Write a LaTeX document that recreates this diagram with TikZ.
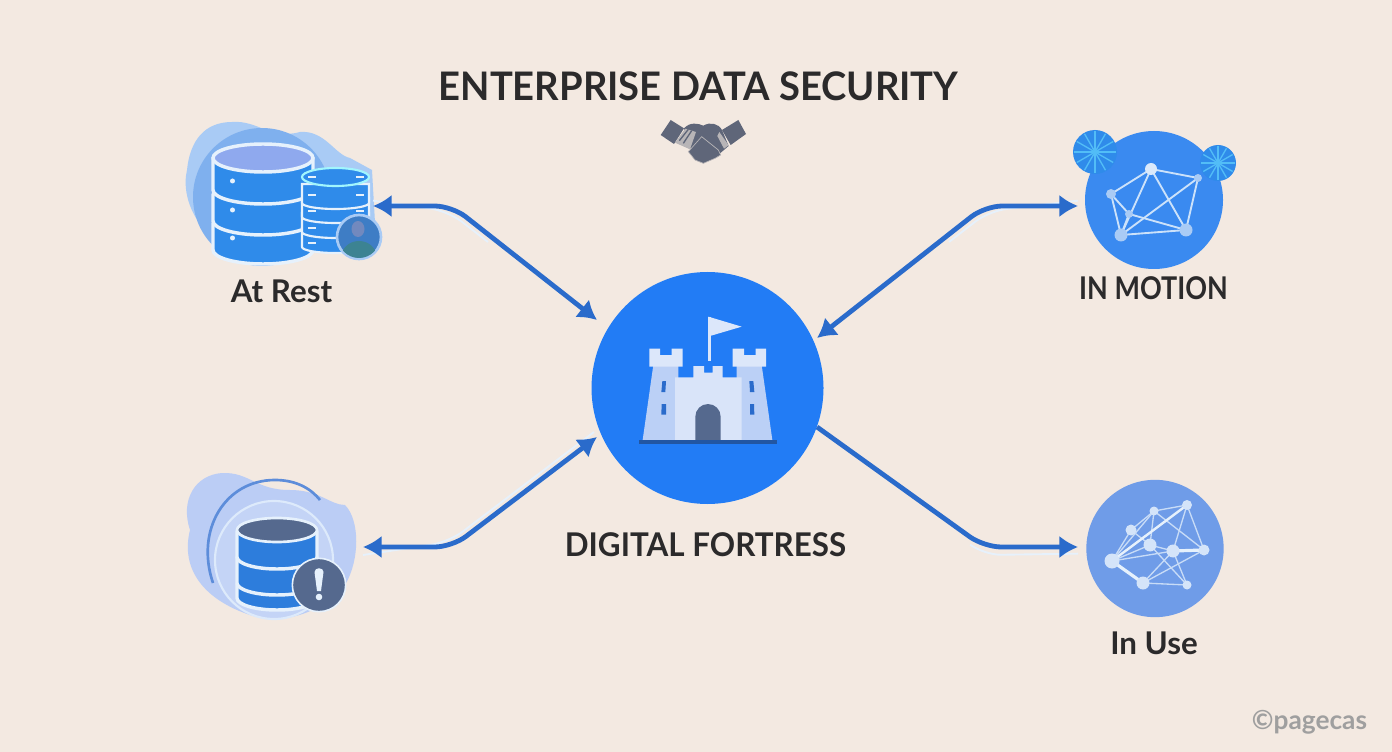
\documentclass[tikz,border=0pt]{standalone}
\usepackage{fontspec}
\setmainfont{Lato}
\usetikzlibrary{arrows.meta,calc}
\definecolor{bgc}{HTML}{F3E9E1}
\definecolor{arrowc}{HTML}{2A6BCB}
\definecolor{hubc}{HTML}{227CF5}
\definecolor{dbblue}{HTML}{2F8BEA}
\definecolor{dbtop}{HTML}{8FA9EE}
\definecolor{lightb}{HTML}{A9CBF5}
\definecolor{midb}{HTML}{7FB0EE}
\definecolor{palew}{HTML}{E6F1FC}
\definecolor{txtc}{HTML}{2B2A2B}
\definecolor{slatec}{HTML}{55698E}
\definecolor{handc}{HTML}{5F6679}
\definecolor{periw}{HTML}{BBCDF5}
\definecolor{useblue}{HTML}{6F9CE8}
\definecolor{motblue}{HTML}{3A8AF0}
\definecolor{rayc}{HTML}{52BDF7}
\definecolor{towerc}{HTML}{BBD0F6}
\definecolor{bodyc}{HTML}{D9E4F9}
\definecolor{topc}{HTML}{DCE7FA}
\tikzset{
  x=0.75pt,y=-0.75pt,
  conn/.style={draw=arrowc,line width=3.6pt,rounded corners=13pt},
  head/.style={-{Latex[length=14pt,width=17pt,inset=0pt]}},
  bothheads/.style={{Latex[length=14pt,width=17pt,inset=0pt]}-{Latex[length=14pt,width=17pt,inset=0pt]}},
  glow/.style={draw=palew,line width=1.4pt,rounded corners=13pt},
  lab/.style={text=txtc,font=\fontsize{23.5}{26}\selectfont\bfseries,inner sep=0pt,anchor=center},
  blob/.style={circle,minimum size=#1*0.75pt,inner sep=0pt},
  pt/.style={circle,inner sep=0pt,minimum size=#1*0.75pt},
}
\newcommand{\drumseg}[6]{% x, ytop, rx, ry, h, fill
  \fill[#6,draw=palew,line width=2.6pt] (#1-#3,#2) -- (#1-#3,#2+#5) arc[start angle=180,end angle=360,x radius=#3,y radius=-#4]
     -- (#1+#3,#2) arc[start angle=0,end angle=180,x radius=#3,y radius=-#4] -- cycle;
}
\begin{document}
\begin{tikzpicture}
\fill[bgc] (0,0) rectangle (1392,752);
\useasboundingbox (0,0) rectangle (1392,752);

\node[lab,font=\fontsize{29.5}{32}\selectfont\bfseries] (title) at (698.5,86) {\scalebox{.97}[1]{ENTERPRISE DATA SECURITY}};

% handshake
\begin{scope}[shift={(640,110)},x=0.25pt,y=-0.25pt]
\fill[handc] (62,75) -- (92,30) -- (132,55) -- (102,102) -- cycle;
\fill[handc] (318,72) -- (295,30) -- (246,60) -- (272,105) -- cycle;
\fill[handc] (132,55) .. controls (150,35) and (175,40) .. (190,47) .. controls (210,35) and (235,40) .. (246,60) -- (266,108) -- (240,130) -- (150,115) -- cycle;
\fill[handc!40!bgc] (105,98) -- (136,56) -- (168,66) -- (150,118) -- cycle;
\draw[handc,line width=1pt] (118,92) -- (145,58) (130,100) -- (155,62);
\fill[handc!40!bgc] (238,66) -- (266,106) -- (252,116) -- (232,78) -- cycle;
\fill[handc,draw=bgc!60!handc,line width=.5pt] (145,125) -- (185,80) -- (235,120) -- (242,135) -- (225,145) -- (190,160) -- (165,150) -- cycle;
\end{scope}

% hub
\node[circle,fill=hubc,minimum size=174pt,inner sep=0pt] (hub) at (707.5,388) {};
\coordinate (hubNW) at (597,320);
\coordinate (hubNE) at (817,338);
\coordinate (hubSW) at (597,437);
\coordinate (hubSE) at (817,427);

% castle
\begin{scope}[shift={(620,300)},x=0.25pt,y=-0.25pt]
\fill[topc] (265,50) rectangle (274,182);
\fill[topc] (265,50) -- (365,80) -- (270,108) -- cycle;
\fill[towerc] (100,195) -- (175,195) -- (175,420) -- (68,420) -- cycle;
\fill[towerc] (350,195) -- (425,195) -- (457,420) -- (350,420) -- cycle;
\fill[topc] (88,146) -- (120,146) -- (120,165) -- (155,165) -- (155,146) -- (188,146) -- (188,200) -- (88,200) -- cycle;
\fill[topc] (338,146) -- (372,146) -- (372,165) -- (407,165) -- (407,146) -- (438,146) -- (438,200) -- (338,200) -- cycle;
\fill[bodyc] (165,232) -- (220,232) -- (220,198) -- (252,198) -- (252,218) -- (278,218) -- (278,198) -- (308,198) -- (308,232) -- (365,232) -- (365,420) -- (165,420) -- cycle;
\fill[slatec] (226,420) -- (226,350) arc[start angle=180,end angle=360,x radius=38,y radius=38] -- (302,420) -- cycle;
\fill[arrowc] (127,243) -- (138,243) -- (136,276) -- (124,276) -- cycle;
\fill[arrowc] (125,312) -- (138,312) -- (138,344) -- (124,344) -- cycle;
\fill[arrowc] (388,243) -- (400,243) -- (403,276) -- (390,276) -- cycle;
\fill[arrowc] (390,312) -- (402,312) -- (403,344) -- (390,344) -- cycle;
\fill[arrowc!80!black] (58,420) rectangle (470,431);
\end{scope}
\node[lab,font=\fontsize{24.5}{26}\selectfont\bfseries] (fort) at (705.5,545) {\scalebox{.96}[1]{DIGITAL FORTRESS}};

% ---- At Rest icon
\fill[lightb] (232,122) .. controls (258,120) and (270,140) .. (300,132) .. controls (325,130) and (335,155) .. (350,158) -- (372,170) -- (376,240) -- (300,255) -- (240,252) .. controls (200,240) and (180,200) .. (187,170) .. controls (190,140) and (205,122) .. (232,122) -- cycle;
\node[blob=138,fill=midb] (restbg) at (262,197) {};
\drumseg{263}{224}{50}{14}{26}{dbblue}
\drumseg{263}{195}{50}{14}{26}{dbblue}
\drumseg{263}{160}{50}{14}{30}{dbblue}
\fill[dbtop,draw=palew,line width=2.6pt] (263,158) ellipse[x radius=50,y radius=14];
\foreach \yy in {181,210,238}{\fill[palew] (232.5,\yy) circle (2.5);}
\foreach \yy in {228,213,198,184}{
 \fill[dbblue,draw=palew,line width=1.6pt] (302,\yy) -- (302,\yy+19) arc[start angle=180,end angle=360,x radius=33.5,y radius=-6] -- (369,\yy) -- cycle;}
\fill[dbblue,draw=palew!70!cyan,line width=1.6pt] (335.5,177) ellipse[x radius=33.5,y radius=9];
\foreach \yy in {177,195,211,228,243}{
 \fill[palew] (308,\yy-1) rectangle (316,\yy+1);}
\foreach \yy in {177,195,211}{
 \fill[palew] (356,\yy-1) rectangle (364,\yy+1);}
\node[circle,fill=dbblue!60!slatec,draw=lightb,line width=2pt,minimum size=33pt,inner sep=0pt] (person) at (359,237) {};
\begin{scope}
\clip (359,237) circle (21);
\fill[slatec!50!dbtop] (358,229) ellipse[x radius=6.5,y radius=8];
\fill[teal!55!slatec!90!white] (359,258) ellipse[x radius=18,y radius=17];
\end{scope}
\node[lab] (rest) at (281.5,291) {At Rest};
\coordinate (restR) at (373,206);

% ---- In Motion icon
\node[circle,fill=motblue,minimum size=103.5pt,inner sep=0pt] (motion) at (1154,200) {};
\node[circle,fill=dbblue,minimum size=33pt,inner sep=0pt] (sunA) at (1095,152) {};
\node[circle,fill=dbblue,minimum size=27pt,inner sep=0pt] (sunB) at (1218,163) {};
\foreach \a in {0,30,...,330}{
  \draw[rayc,line width=1pt] (sunA.center) -- ($(sunA.center)+(\a:21)$);
  \draw[rayc,line width=1pt] (sunB.center) -- ($(sunB.center)+(\a:17)$);
}
\coordinate (m1) at (1151,169);
\coordinate (m2) at (1111,194);
\coordinate (m3) at (1198,178);
\coordinate (m4) at (1129,214);
\coordinate (m5) at (1121,235);
\coordinate (m6) at (1186,230);
\foreach \a/\b in {m1/m2,m1/m3,m1/m5,m1/m6,m2/m5,m2/m4,m3/m5,m3/m6,m4/m6,m5/m6,m4/m5}{
 \draw[draw=palew!85!motblue,line width=1.4pt] (\a) -- (\b);}
\foreach \c/\s/\f in {m1/12/palew!80!lightb,m2/10/lightb,m3/8/lightb,m4/8/lightb,m5/13/lightb,m6/13/lightb}{
 \node[pt=\s,fill=\f] at (\c) {};}
\node[lab,font=\fontsize{23.5}{26}\selectfont\bfseries] (motlab) at (1153.5,288) {\scalebox{.86}[1]{IN MOTION}};
\coordinate (motL) at (1078,206);

% ---- bottom-left icon
\fill[periw] (222,473) .. controls (250,472) and (255,490) .. (290,490) .. controls (320,490) and (330,505) .. (345,505) .. controls (360,520) and (360,560) .. (345,585) .. controls (320,615) and (280,625) .. (250,615) .. controls (205,600) and (180,570) .. (190,530) .. controls (180,500) and (195,475) .. (222,473) -- cycle;
\draw[periw!35!arrowc,line width=2pt] (213,583) .. controls (195,530) and (225,480) .. (275,480) .. controls (298,480) and (312,490) .. (320,500);
\node[circle,fill=periw!80!palew,draw=palew!80!periw,line width=1.6pt,minimum size=88.5pt,inner sep=0pt] (warnring) at (274,560) {};
\drumseg{277}{585}{40}{12}{13}{dbblue!55!arrowc}
\drumseg{277}{558}{40}{12}{25}{dbblue!55!arrowc}
\drumseg{277}{532}{40}{12}{25}{dbblue!55!arrowc}
\fill[slatec,draw=palew,line width=2pt] (277,530) ellipse[x radius=40,y radius=12];
\node[circle,fill=slatec,draw=palew,line width=1.2pt,minimum size=40pt,inner sep=0pt] (warn) at (319,585) {};
\fill[palew] (314.5,572) .. controls (314.5,567) and (323.5,567) .. (323.5,572) -- (321,591) -- (317,591) -- cycle;
\fill[palew] (319,597) circle (3.3);
\coordinate (warnR) at (363,547);

% ---- In Use
\node[circle,fill=useblue,minimum size=103pt,inner sep=0pt] (use) at (1155,548.5) {};
\coordinate (u1) at (1112,561);
\coordinate (u2) at (1143,583);
\coordinate (u3) at (1131,530);
\coordinate (u4) at (1154,511);
\coordinate (u5) at (1187,505);
\coordinate (u6) at (1150,545);
\coordinate (u7) at (1173,551);
\coordinate (u8) at (1204,550);
\coordinate (u9) at (1187,585);
\foreach \a/\b in {u1/u4,u1/u5,u1/u3,u1/u6,u1/u7,u3/u6,u4/u5,u4/u6,u5/u7,u5/u8,u6/u7,u6/u9,u7/u8,u7/u9,u8/u2,u2/u9,u2/u7,u4/u3,u4/u8}{
 \draw[draw=palew!75!useblue,line width=1pt] (\a) -- (\b);}
\draw[draw=palew,line width=2.4pt] (u1) -- (u2);
\draw[draw=palew,line width=2.4pt] (u7) -- (u8);
\draw[draw=palew,line width=1.8pt] (u1) -- (u5);
\foreach \c/\s in {u1/15,u2/13,u3/11,u4/9,u5/10,u6/13,u7/13,u8/11,u9/9}{
 \node[pt=\s,fill=palew!85!useblue] at (\c) {};}
\node[lab] (uselab) at (1154,643) {In Use};
\coordinate (useL) at (1078,547);

% connectors
\coordinate (b1) at (452,206);
\coordinate (b2) at (985,206);
\coordinate (b3) at (452,547);
\coordinate (b4) at (984,547);
\draw[glow] ([yshift=-5pt]useL) -- ([yshift=-6pt]b4) -- +(-12,-9);
\draw[glow] ([yshift=-6pt]warnR) -- ([shift={(-3,-5)}]b3) -- ([shift={(-3,-5)}]hubSW);
\draw[glow] ([yshift=4pt]motL) -- ([shift={(4,5)}]b2) -- +(-40,31);
\draw[glow] ([yshift=4pt]restR) -- ([shift={(-4,5)}]b1) -- +(40,31);
\draw[conn,bothheads] (restR) -- (b1) -- (hubNW);
\draw[conn,bothheads] (motL) -- (b2) -- (hubNE);
\draw[conn,bothheads] (warnR) -- (b3) -- (hubSW);
\draw[conn,head] (hubSE) -- (b4) -- (useL);

% watermark
\node[text=gray!75,font=\fontsize{19.7}{22}\selectfont\bfseries,inner sep=0pt] (mark) at (1309.5,722) {©pagecas};
\end{tikzpicture}
\end{document}
